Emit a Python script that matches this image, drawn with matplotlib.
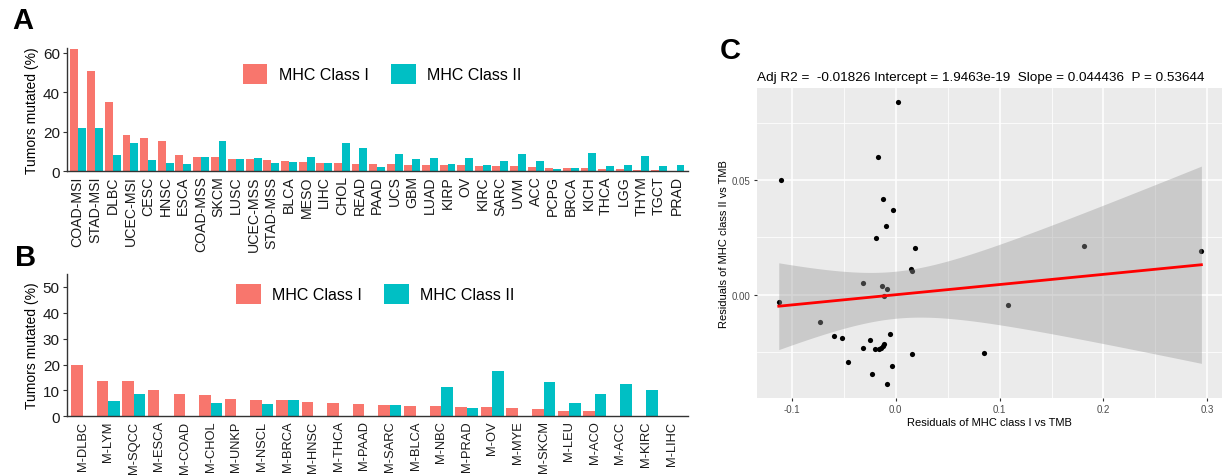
import numpy as np
import matplotlib.pyplot as plt
from matplotlib.patches import Patch

plt.rcParams['font.family'] = ['Liberation Sans', 'DejaVu Sans']

RED = '#F8766D'
TEAL = '#00BFC4'

# panel A: TCGA tumour types
tcga_types = ['COAD-MSI', 'STAD-MSI', 'DLBC', 'UCEC-MSI', 'CESC', 'HNSC', 'ESCA', 'COAD-MSS',
              'SKCM', 'LUSC', 'UCEC-MSS', 'STAD-MSS', 'BLCA', 'MESO', 'LIHC', 'CHOL', 'READ',
              'PAAD', 'UCS', 'GBM', 'LUAD', 'KIRP', 'OV', 'KIRC', 'SARC', 'UVM', 'ACC', 'PCPG',
              'BRCA', 'KICH', 'THCA', 'LGG', 'THYM', 'TGCT', 'PRAD']
tcga_class1 = [62.2, 50.6, 34.9, 18.3, 17.0, 15.3, 8.4, 7.4, 7.4, 6.4, 6.2, 5.7, 5.2, 4.7, 4.4,
               4.0, 3.9, 3.5, 3.5, 3.4, 3.2, 3.2, 3.0, 2.9, 2.7, 2.5, 2.2, 1.7, 1.5, 1.5, 1.0,
               1.0, 0.8, 0.7, 0.0]
tcga_class2 = [21.7, 21.7, 8.1, 14.1, 5.9, 4.0, 3.9, 7.4, 15.5, 6.4, 6.9, 4.2, 4.7, 7.4, 4.2,
               14.1, 12.0, 2.4, 8.7, 6.1, 6.6, 3.5, 6.7, 3.4, 5.4, 8.7, 5.4, 1.0, 1.8, 9.2, 2.7,
               3.4, 7.6, 2.5, 3.0]

# panel B: metastatic cohort
met_types = ['M-DLBC', 'M-LYM', 'M-SQCC', 'M-ESCA', 'M-COAD', 'M-CHOL', 'M-UNKP', 'M-NSCL',
             'M-BRCA', 'M-HNSC', 'M-THCA', 'M-PAAD', 'M-SARC', 'M-BLCA', 'M-NBC', 'M-PRAD',
             'M-OV', 'M-MYE', 'M-SKCM', 'M-LEU', 'M-ACO', 'M-ACC', 'M-KIRC', 'M-LIHC']
met_class1 = [19.9, 13.8, 13.5, 10.0, 8.5, 8.2, 6.6, 6.3, 6.2, 5.5, 5.3, 4.8, 4.5, 4.1, 4.1,
              3.7, 3.7, 3.3, 3.0, 1.9, 1.9, 0.0, 0.0, 0.0]
met_class2 = [0.0, 5.9, 8.5, 0.0, 0.0, 5.3, 0.0, 4.6, 6.2, 0.0, 0.0, 0.0, 4.5, 0.0, 11.2,
              3.2, 17.6, 0.0, 13.4, 5.0, 8.5, 12.6, 10.0, 0.0]

# panel C: residuals
resid_class1 = [0.0026, -0.0166, -0.1106, -0.0118, -0.0022, -0.0096, -0.0186, 0.0186, 0.181,
                0.2942, 0.0144, 0.0157, -0.0314, -0.0128, -0.008, -0.0115, -0.1125, 0.108,
                -0.0731, -0.0596, -0.0519, -0.0051, -0.0243, -0.0314, -0.0202, -0.016,
                -0.0144, -0.0125, -0.0115, 0.0157, 0.0846, -0.0455, -0.0038, -0.0231, -0.0087]
resid_class2 = [0.0839, 0.0599, 0.05, 0.0419, 0.0369, 0.0299, 0.0247, 0.0205, 0.0211, 0.0189,
                0.0112, 0.0102, 0.0052, 0.0038, 0.0026, -0.0006, -0.0033, -0.0045, -0.0118,
                -0.0179, -0.0187, -0.0171, -0.0196, -0.0234, -0.0237, -0.0237, -0.0231,
                -0.0224, -0.0215, -0.026, -0.0256, -0.0295, -0.0312, -0.0347, -0.0389]
adj_r2 = -0.01826
intercept = 1.9463e-19
slope = 0.044436
p_value = 0.53644

fig = plt.figure(figsize=(12.22, 4.77), dpi=100)


def bar_panel(rect, names, c1, c2, ymax, yticks, legend_xy, xfont):
    ax = fig.add_axes(rect)
    x = np.arange(len(names))
    w = 0.45
    ax.bar(x - w / 2, c1, width=w, color=RED, linewidth=0)
    ax.bar(x + w / 2, c2, width=w, color=TEAL, linewidth=0)
    ax.set_xlim(-0.62, len(names) - 0.35)
    ax.set_ylim(0, ymax)
    ax.set_yticks(yticks)
    ax.set_xticks(x)
    ax.set_xticklabels(names, rotation=90, fontsize=xfont, color='#1a1a1a')
    ax.tick_params(axis='x', length=0, pad=3)
    ax.tick_params(axis='y', length=3, width=0.8, color='#333333', labelsize=11,
                   labelcolor='#1a1a1a', pad=2)
    for s in ['top', 'right']:
        ax.spines[s].set_visible(False)
    for s in ['left', 'bottom']:
        ax.spines[s].set_color('#333333')
        ax.spines[s].set_linewidth(1.0)
    ax.set_ylabel('Tumors mutated (%)', fontsize=10, labelpad=3)
    handles = [Patch(facecolor=RED, label='MHC Class I'),
               Patch(facecolor=TEAL, label='MHC Class II')]
    fig.legend(handles=handles, loc='center', bbox_to_anchor=legend_xy, ncol=2, frameon=False,
               fontsize=11.5, handlelength=1.55, handleheight=1.55, columnspacing=1.4,
               handletextpad=0.7)
    return ax


bar_panel([0.0546, 0.6388, 0.5084, 0.2585], tcga_types, tcga_class1, tcga_class2,
          62.5, [0, 20, 40, 60], (0.3125, 0.8438), 10.2)
bar_panel([0.0546, 0.1252, 0.5087, 0.2983], met_types, met_class1, met_class2,
          55, [0, 10, 20, 30, 40, 50], (0.3069, 0.3816), 9.3)

# panel C: regression of residuals
axc = fig.add_axes([0.6195, 0.1635, 0.3803, 0.65])
axc.set_facecolor('#EBEBEB')
xr = np.array(resid_class1)
yr = np.array(resid_class2)
axc.scatter(xr, yr, s=14, color='black', zorder=3, linewidths=0)

n = len(xr)
fit_y = intercept + slope * xr
s_err = np.sqrt(np.sum((yr - fit_y) ** 2) / (n - 2))
xs = np.linspace(xr.min(), xr.max(), 200)
ys = intercept + slope * xs
half = 2.03 * s_err * np.sqrt(1 / n + (xs - xr.mean()) ** 2 / np.sum((xr - xr.mean()) ** 2))
axc.fill_between(xs, ys - half, ys + half, color='#999999', alpha=0.4, linewidth=0, zorder=4)
axc.plot(xs, ys, color='red', linewidth=2, zorder=5)

axc.set_xlim(-0.1334, 0.3138)
axc.set_ylim(-0.045, 0.0901)
axc.set_xticks([-0.1, 0.0, 0.1, 0.2, 0.3])
axc.set_xticklabels(['-0.1', '0.0', '0.1', '0.2', '0.3'])
axc.set_yticks([0.0, 0.05])
axc.set_yticklabels(['0.00', '0.05'])
axc.set_xticks([-0.05, 0.05, 0.15, 0.25], minor=True)
axc.set_yticks([-0.025, 0.025, 0.075], minor=True)
axc.grid(which='major', color='white', linewidth=1.1)
axc.grid(which='minor', color='white', linewidth=0.55)
axc.set_axisbelow(True)
for s in axc.spines.values():
    s.set_visible(False)
axc.tick_params(which='major', length=2.5, width=0.8, color='#333333', labelsize=7,
                labelcolor='#4d4d4d', pad=2)
axc.tick_params(which='minor', length=0)
axc.set_xlabel('Residuals of MHC class I vs TMB', fontsize=8, labelpad=2)
axc.set_ylabel('Residuals of MHC class II vs TMB', fontsize=8, labelpad=2)
axc.set_title(f'Adj R2 =  {adj_r2} Intercept = {intercept}  Slope = {slope}  P = {p_value}',
              fontsize=9.7, loc='left', pad=6)

fig.text(0.01, 0.955, 'A', fontsize=21, fontweight='bold', va='center')
fig.text(0.012, 0.46, 'B', fontsize=21, fontweight='bold', va='center')
fig.text(0.589, 0.893, 'C', fontsize=21, fontweight='bold', va='center')

fig.savefig('out.png', dpi=100)
